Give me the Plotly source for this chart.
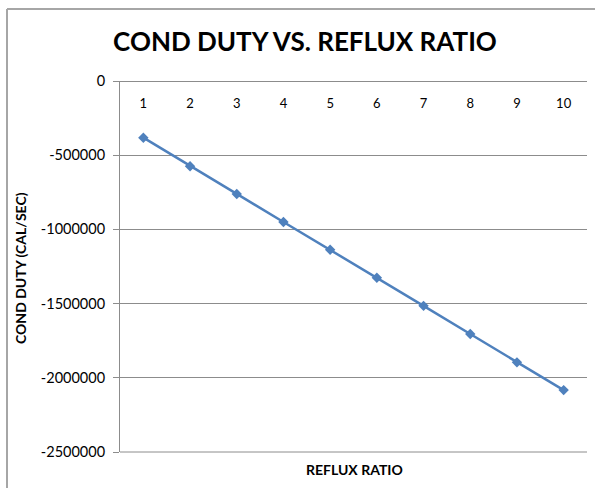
import plotly.graph_objects as go

reflux_ratio = [1, 2, 3, 4, 5, 6, 7, 8, 9, 10]
cond_duty = [-382000, -574000, -761000, -950000, -1137000,
             -1326000, -1515000, -1705000, -1896000, -2083000]
y_tick_vals = [0, -500000, -1000000, -1500000, -2000000, -2500000]
y_tick_text = ["0", "-500000", "-1000000", "-1500000", "-2000000", "-2500000"]

W, H = 595, 488
L, R, T, B = 120, 8, 81, 36
pw = W - L - R
ph = H - T - B

def px_x(px):
    return (px - L) / pw

def px_y(py):
    return (H - B - py) / ph

FONT = "Lato, Calibri, Carlito, sans-serif"
BLUE = "#4f81bd"
GRID = "#8c8c8c"
BORDER = "#a6a6a6"

fig = go.Figure()
fig.add_trace(go.Scatter(
    x=[str(v) for v in reflux_ratio], y=cond_duty,
    mode="lines+markers",
    line=dict(color=BLUE, width=2.5),
    marker=dict(symbol="diamond", size=8, color=BLUE),
    showlegend=False, cliponaxis=False,
))

fig.update_layout(
    width=W, height=H,
    margin=dict(l=L, r=R, t=T, b=B),
    paper_bgcolor="white", plot_bgcolor="white",
    font=dict(family=FONT, size=13, color="#000"),
    title=dict(text="<b>COND DUTY VS. REFLUX RATIO</b>",
               font=dict(family=FONT, size=26, color="#000"),
               xref="paper", x=px_x(305), xanchor="center",
               yref="container", y=1 - 42 / H, yanchor="middle"),
    xaxis=dict(type="category", anchor="free", position=1, side="bottom",
               range=[-0.5, len(reflux_ratio) - 0.5], autorange=False,
               showgrid=False, showline=True, linecolor=GRID, linewidth=1,
               ticks="", tickfont=dict(family=FONT, size=13, color="#000"),
               ticklabelstandoff=10, zeroline=False),
    yaxis=dict(range=[-2500000, 0], tickvals=y_tick_vals, ticktext=y_tick_text,
               showgrid=True, gridcolor=GRID, gridwidth=1,
               showline=True, linecolor=GRID, linewidth=1,
               ticks="outside", ticklen=6, tickcolor=GRID,
               ticklabelstandoff=5,
               tickfont=dict(family=FONT, size=14.5, color="#000"),
               zeroline=False),
    shapes=[
        dict(type="line", xref="paper", yref="paper", x0=0, x1=1, y0=0, y1=0,
             line=dict(color=GRID, width=1)),
        dict(type="line", xref="paper", yref="paper",
             x0=px_x(7), x1=px_x(7), y0=px_y(9), y1=px_y(495),
             line=dict(color=BORDER, width=2)),
        dict(type="line", xref="paper", yref="paper",
             x0=px_x(7), x1=px_x(600), y0=px_y(9), y1=px_y(9),
             line=dict(color=BORDER, width=2)),
    ],
    annotations=[
        dict(text="<b>REFLUX RATIO</b>", xref="paper", yref="paper",
             x=px_x(354), y=px_y(469), xanchor="center", yanchor="middle",
             showarrow=False, font=dict(family=FONT, size=14, color="#000")),
        dict(text="<b>COND DUTY (CAL/SEC)</b>", xref="paper", yref="paper",
             x=px_x(20), y=px_y(268), xanchor="center", yanchor="middle",
             textangle=-90, showarrow=False,
             font=dict(family=FONT, size=14, color="#000")),
    ],
)

fig.write_html(
    "out.html",
    config={"displayModeBar": False},
    post_script="document.body.style.margin='0';document.body.style.overflow='hidden';",
)
